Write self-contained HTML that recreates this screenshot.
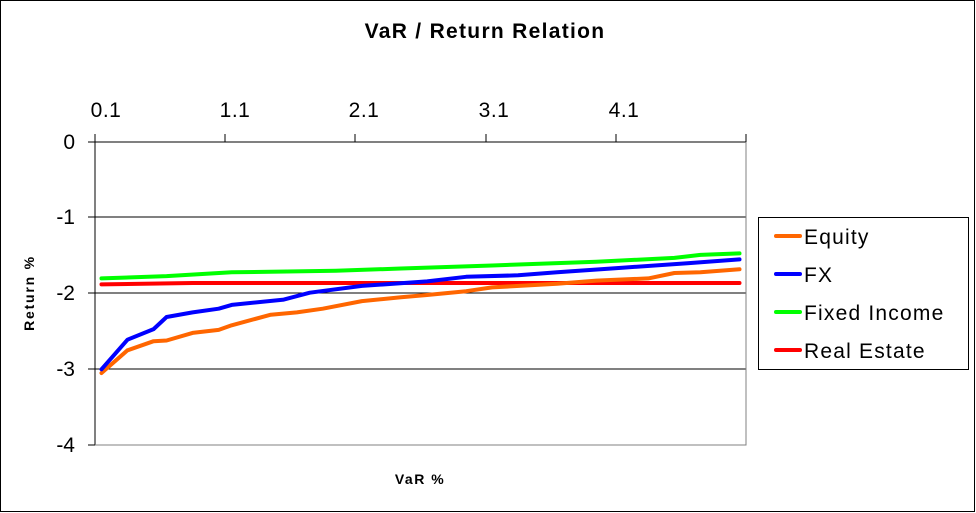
<!DOCTYPE html>
<html><head><meta charset="utf-8"><style>
html,body{margin:0;padding:0;background:#fff}
svg{display:block}
text{font-family:"Liberation Sans",Arial,sans-serif}
</style></head><body>
<svg width="976" height="513" viewBox="0 0 976 513" xmlns="http://www.w3.org/2000/svg">
<rect x="0.5" y="0.5" width="974" height="511" fill="#fff" stroke="#000" stroke-width="1"/>
<text x="485" y="38" font-size="21" font-weight="bold" letter-spacing="1.3" text-anchor="middle">VaR / Return Relation</text>
<g stroke="#000" stroke-width="1">
<line x1="88" y1="142" x2="746" y2="142"/>
<line x1="88" y1="217" x2="746" y2="217"/>
<line x1="88" y1="293" x2="746" y2="293"/>
<line x1="88" y1="369" x2="746" y2="369"/>
<line x1="88" y1="445" x2="95" y2="445"/>
<line x1="95" y1="142" x2="95" y2="445"/>
<line x1="95" y1="134" x2="95" y2="142"/>
<line x1="225" y1="134" x2="225" y2="142"/>
<line x1="355" y1="134" x2="355" y2="142"/>
<line x1="486" y1="134" x2="486" y2="142"/>
<line x1="616" y1="134" x2="616" y2="142"/>
<line x1="746" y1="134" x2="746" y2="142"/>
</g>
<polyline points="746,142 746,445 95,445" fill="none" stroke="#808080" stroke-width="1"/>
<g font-size="21" text-anchor="middle" letter-spacing="0.5">
<text x="106" y="117">0.1</text>
<text x="235" y="117">1.1</text>
<text x="364" y="117">2.1</text>
<text x="494" y="117">3.1</text>
<text x="624" y="117">4.1</text>
</g>
<g font-size="21" text-anchor="end">
<text x="75" y="149">0</text>
<text x="75" y="224">-1</text>
<text x="75" y="300">-2</text>
<text x="75" y="376">-3</text>
<text x="75" y="452">-4</text>
</g>
<text x="420" y="484" font-size="14" font-weight="bold" letter-spacing="1.5" text-anchor="middle">VaR %</text>
<text transform="translate(34,293) rotate(-90)" font-size="14" font-weight="bold" letter-spacing="1.8" text-anchor="middle">Return %</text>
<g fill="none" stroke-width="4" stroke-linejoin="round" stroke-linecap="round">
<polyline stroke="#00ff00" points="101.5,278.4 166.6,276.1 231.7,272.3 335.9,270.8 401,268.5 492.1,265.5 596.3,261.7 674.4,257.9 700.4,254.9 739.5,253.4"/>
<polyline stroke="#ff0000" points="101.5,284.4 192.6,283 739.5,283"/>
<polyline stroke="#ff6600" points="101.5,373 127.5,350.3 153.6,341.2 166.6,340.5 192.6,332.9 218.7,329.9 231.7,325.3 270.8,314.7 296.8,312.4 322.8,308.7 361.9,301.1 401,297.3 427,295 466.1,291.2 492.1,287.4 557.2,283.7 596.3,280.6 648.3,278.4 674.4,273 700.4,272.3 739.5,269.3"/>
<polyline stroke="#0000ff" points="101.5,369.3 127.5,339.7 153.6,329.1 166.6,317 192.6,312.4 218.7,308.7 231.7,304.9 283.8,299.6 309.8,292.7 361.9,285.9 427,281.4 466.1,276.8 518.1,275.3 557.2,272.3 622.3,267.7 687.4,263.2 739.5,259.4"/>
</g>
<rect x="758.5" y="217.5" width="210" height="152" fill="#fff" stroke="#000" stroke-width="1"/>
<g stroke-width="4" stroke-linecap="round">
<line x1="776" y1="236" x2="800" y2="236" stroke="#ff6600"/>
<line x1="776" y1="274" x2="800" y2="274" stroke="#0000ff"/>
<line x1="776" y1="312" x2="800" y2="312" stroke="#00ff00"/>
<line x1="776" y1="350" x2="800" y2="350" stroke="#ff0000"/>
</g>
<g font-size="21" letter-spacing="1.2">
<text x="804" y="244">Equity</text>
<text x="804" y="282">FX</text>
<text x="804" y="320">Fixed Income</text>
<text x="804" y="358">Real Estate</text>
</g>
</svg>
</body></html>
